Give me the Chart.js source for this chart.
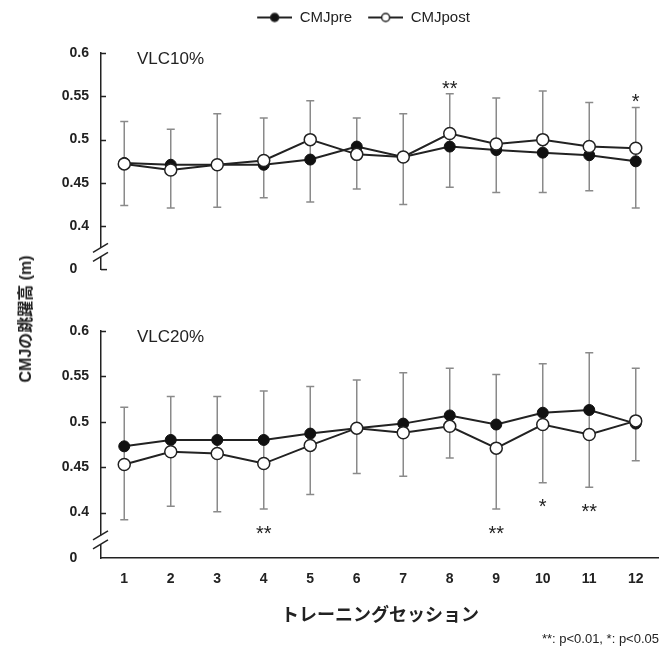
<!DOCTYPE html>
<html>
<head>
<meta charset="utf-8">
<script src="https://cdn.jsdelivr.net/npm/chart.js@4"></script>
<style>
    body { margin: 0; background: #fff; }
    #wrap { position: relative; width: 659px; height: 650px; }
    #chart-top { position: absolute; left: 0; top: 0; }
    #chart-bottom { position: absolute; left: 0; top: 290px; }
    #y-title {
        position: absolute; left: 24px; top: 319px;
        transform: translate(-50%, -50%) rotate(-90deg);
        font: bold 16px "Liberation Sans", "Noto Sans CJK JP", sans-serif;
        color: #222; white-space: nowrap;
    }
</style>
</head>
<body>
<div id="wrap">
    <canvas id="chart-top" width="659" height="290"></canvas>
    <canvas id="chart-bottom" width="659" height="360"></canvas>
    <div id="y-title">CMJの跳躍高 (m)</div>
</div>
<script>
// ─── Data ──────────────────────────────────────────────────────

const sessions = ['1', '2', '3', '4', '5', '6', '7', '8', '9', '10', '11', '12'];
// 0.35 is the bottom of the broken axis, labelled "0"
const yTicks = [0.35, 0.4, 0.45, 0.5, 0.55, 0.6];

// VLC10%
const pre10  = [0.473, 0.471, 0.471, 0.471, 0.477, 0.492, 0.480, 0.492, 0.488, 0.485, 0.482, 0.475];
const post10 = [0.472, 0.465, 0.471, 0.476, 0.500, 0.483, 0.480, 0.507, 0.495, 0.500, 0.492, 0.490];
const hi10   = [0.521, 0.512, 0.530, 0.525, 0.545, 0.525, 0.530, 0.553, 0.548, 0.556, 0.543, 0.537];
const lo10   = [0.424, 0.421, 0.422, 0.433, 0.428, 0.443, 0.425, 0.445, 0.439, 0.439, 0.441, 0.421];
const sig10  = ['', '', '', '', '', '', '', '**', '', '', '', '*'];

// VLC20%
const pre20  = [0.473, 0.480, 0.480, 0.480, 0.487, 0.493, 0.498, 0.507, 0.497, 0.510, 0.513, 0.498];
const post20 = [0.453, 0.467, 0.465, 0.454, 0.474, 0.493, 0.488, 0.495, 0.471, 0.497, 0.486, 0.501];
const hi20   = [0.516, 0.528, 0.528, 0.534, 0.539, 0.546, 0.554, 0.559, 0.552, 0.564, 0.576, 0.559];
const lo20   = [0.392, 0.407, 0.401, 0.404, 0.420, 0.443, 0.440, 0.460, 0.404, 0.433, 0.428, 0.457];
const sig20  = ['', '', '', '**', '', '', '', '', '**', '*', '**', ''];

const FONT = '"Liberation Sans", Arial, sans-serif';
const INK = '#222';
const BREAK_AT = 0.37;

// Legend symbol: short line with a marker in the middle (small transparent lead-in for spacing)
function legendSymbol(filled) {
    const c = document.createElement('canvas');
    c.width = 41; c.height = 12;
    const g = c.getContext('2d');
    g.strokeStyle = INK;
    g.lineWidth = 2;
    g.beginPath(); g.moveTo(6, 6); g.lineTo(41, 6); g.stroke();
    g.beginPath(); g.arc(23.5, 6, 4, 0, Math.PI * 2);
    g.fillStyle = filled ? '#111' : '#fff';
    g.fill();
    g.lineWidth = 1.5;
    g.stroke();
    return c;
}

// ─── Error bars, axis break, panel label, significance marks ──

function panelPlugin(p) {
    return {
        id: 'panelDecor',
        beforeDatasetsDraw(chart) {
            const { ctx } = chart;
            const x = chart.scales.x, y = chart.scales.y;
            ctx.save();
            ctx.strokeStyle = '#8a8a8a';
            ctx.lineWidth = 1.5;
            p.hi.forEach((hi, i) => {
                const px = x.getPixelForValue(i);
                const top = y.getPixelForValue(hi);
                const bot = y.getPixelForValue(p.lo[i]);
                ctx.beginPath();
                ctx.moveTo(px, top); ctx.lineTo(px, bot);
                ctx.moveTo(px - 4, top); ctx.lineTo(px + 4, top);
                ctx.moveTo(px - 4, bot); ctx.lineTo(px + 4, bot);
                ctx.stroke();
            });
            ctx.restore();
        },
        afterDraw(chart) {
            const { ctx, chartArea } = chart;
            const x = chart.scales.x, y = chart.scales.y;
            const ax = chartArea.left;
            ctx.save();

            // inward tick marks
            ctx.strokeStyle = INK;
            ctx.lineWidth = 1.5;
            yTicks.filter(v => v > 0.39).forEach(v => {
                const py = Math.round(y.getPixelForValue(v)) + 0.5;
                ctx.beginPath(); ctx.moveTo(ax, py); ctx.lineTo(ax + 5, py); ctx.stroke();
            });
            if (p.top) {
                const py = y.getPixelForValue(0.35);
                ctx.beginPath(); ctx.moveTo(ax, py); ctx.lineTo(ax + 6, py); ctx.stroke();
            }

            // axis break
            const yb = y.getPixelForValue(BREAK_AT);
            ctx.fillStyle = '#fff';
            ctx.fillRect(ax - 3, yb - 4.5, 6, 9);
            [-4.5, 4.5].forEach(d => {
                ctx.beginPath();
                ctx.moveTo(ax - 8, yb + d + 4.5);
                ctx.lineTo(ax + 7, yb + d - 4.5);
                ctx.stroke();
            });

            // panel label
            ctx.fillStyle = INK;
            ctx.font = '17px ' + FONT;
            ctx.textBaseline = 'middle';
            ctx.textAlign = 'left';
            ctx.fillText(p.name, ax + 36, y.getPixelForValue(0.6) + 6);

            // significance marks
            ctx.font = '20px ' + FONT;
            ctx.textAlign = 'center';
            ctx.textBaseline = 'alphabetic';
            p.sig.forEach((s, i) => {
                if (!s) return;
                const px = x.getPixelForValue(i);
                const cy = p.top ? y.getPixelForValue(p.hi[i]) - 11 : y.getPixelForValue(p.lo[i]) + 19;
                ctx.fillText(s, px, cy + 11.8);
            });
            ctx.restore();
        }
    };
}

function makeChart(canvasId, p) {
    const isTop = p.top;
    const tickFont = { family: FONT, size: 14, weight: 'bold' };

    const xScale = isTop
        ? {
            position: 'top', offset: true,
            afterFit: s => { s.height = 18; },
            ticks: { display: false },
            grid: { display: false, drawTicks: false },
            border: { display: false }
        }
        : {
            offset: true,
            afterFit: s => { s.height = 73.4; },
            grid: { display: false, drawTicks: false },
            border: { display: true, color: INK, width: 1.5 },
            ticks: { font: tickFont, color: INK, padding: 13, maxRotation: 0 },
            title: {
                display: true, text: 'トレーニングセッション', color: INK,
                font: { family: '"Noto Sans CJK JP", sans-serif', size: 18, weight: 'bold' },
                padding: { top: 0, bottom: 6 }
            }
        };

    return new Chart(document.getElementById(canvasId), {
        type: 'line',
        data: {
            labels: sessions,
            datasets: [
                {
                    label: 'CMJpre', data: p.pre, order: 1,
                    borderColor: INK, borderWidth: 2,
                    pointRadius: 5.5, pointBackgroundColor: '#111',
                    pointBorderColor: '#111', pointBorderWidth: 1
                },
                {
                    label: 'CMJpost', data: p.post, order: 0,
                    borderColor: INK, borderWidth: 2,
                    pointRadius: 6, pointBackgroundColor: '#fff',
                    pointBorderColor: INK, pointBorderWidth: 1.5
                }
            ]
        },
        options: {
            responsive: false,
            animation: false,
            layout: {
                autoPadding: false,
                padding: isTop
                    ? { left: 62, top: 0, right: 0, bottom: 17 }
                    : { left: 0, top: 41, right: 0, bottom: 0 }
            },
            plugins: {
                tooltip: { enabled: false },
                legend: {
                    display: isTop,
                    position: 'top',
                    labels: {
                        usePointStyle: true, pointStyleWidth: 41, padding: 10,
                        color: INK, font: { family: FONT, size: 15 },
                        generateLabels: () => [
                            { text: 'CMJpre', pointStyle: legendSymbol(true), datasetIndex: 0,
                              fontColor: INK, lineWidth: 0, strokeStyle: 'transparent', fillStyle: 'transparent' },
                            { text: 'CMJpost', pointStyle: legendSymbol(false), datasetIndex: 1,
                              fontColor: INK, lineWidth: 0, strokeStyle: 'transparent', fillStyle: 'transparent' }
                        ]
                    }
                },
                title: {
                    display: !isTop, position: 'bottom', align: 'end',
                    text: '**: p<0.01, *: p<0.05', color: INK,
                    font: { family: FONT, size: 13, weight: 'normal' },
                    padding: { top: 0, bottom: 3 }
                }
            },
            scales: {
                x: xScale,
                y: {
                    min: 0.35, max: 0.6,
                    afterFit: s => { s.width = isTop ? 39 : 101; },
                    afterBuildTicks: s => { s.ticks = yTicks.map(v => ({ value: v })); },
                    grid: { display: false, drawTicks: false },
                    border: { display: true, color: INK, width: 1.5 },
                    ticks: {
                        padding: 12, font: tickFont, color: INK,
                        callback: v => v < 0.39 ? '0   ' : String(v)
                    }
                }
            }
        },
        plugins: [panelPlugin(p)]
    });
}

makeChart('chart-top', { top: true, name: 'VLC10%', pre: pre10, post: post10, hi: hi10, lo: lo10, sig: sig10 });
makeChart('chart-bottom', { top: false, name: 'VLC20%', pre: pre20, post: post20, hi: hi20, lo: lo20, sig: sig20 });
</script>
</body>
</html>
